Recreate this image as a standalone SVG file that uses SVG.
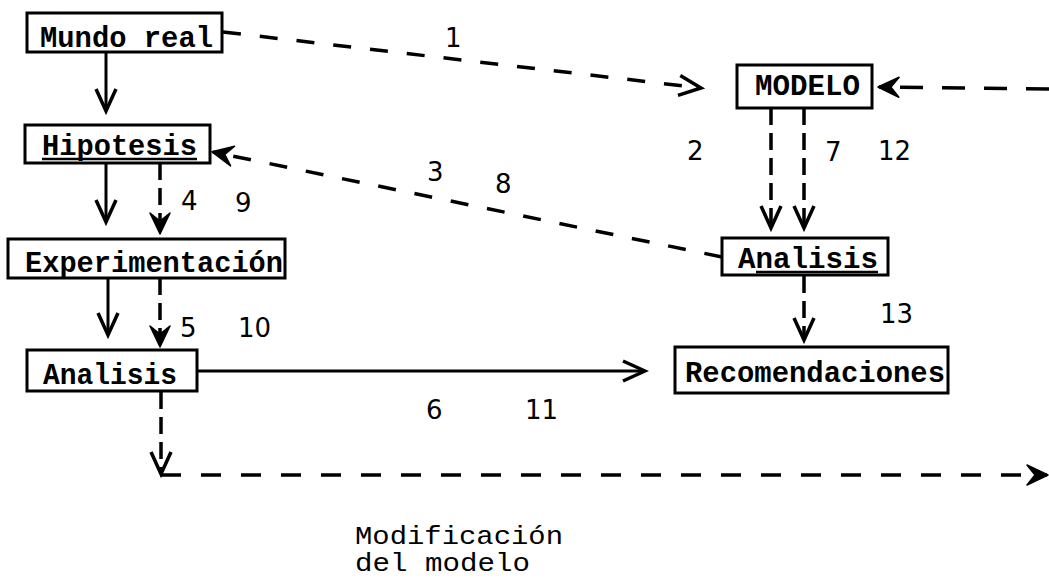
<svg xmlns="http://www.w3.org/2000/svg" width="1049" height="578" viewBox="0 0 1049 578">
  <style>
    .box { fill: #fff; stroke: #000; stroke-width: 3; }
    .lbl { font-family: "Liberation Mono", "Courier New", monospace; font-weight: bold; font-size: 29px; fill: #000; }
    .note { font-family: "Liberation Mono", "Courier New", monospace; font-size: 25px; fill: #000; }
    .num { font-family: "DejaVu Sans", "Liberation Sans", sans-serif; font-size: 26px; fill: #000; }
    .solid { fill: none; stroke: #000; stroke-width: 3; }
    .dash { fill: none; stroke: #000; stroke-width: 3.5; stroke-dasharray: 18 19; }
    .vdash { fill: none; stroke: #000; stroke-width: 3.5; stroke-dasharray: 17 8; }
    .uline { stroke: #000; stroke-width: 2.5; }
  </style>
  <defs>
    <marker id="vee" markerUnits="userSpaceOnUse" markerWidth="30" markerHeight="30" viewBox="-26 -13 30 26" refX="0" refY="0" orient="auto">
      <path d="M-22,-10 L0,0 L-22,10" fill="none" stroke="#000" stroke-width="3.5" stroke-linejoin="miter"/>
    </marker>
    <marker id="barb" markerUnits="userSpaceOnUse" markerWidth="30" markerHeight="30" viewBox="-26 -13 30 26" refX="0" refY="0" orient="auto">
      <path d="M1,0 L-20,-10 L-12,0 L-20,10 Z" fill="#000" stroke="#000" stroke-width="1.5" stroke-linejoin="round"/>
    </marker>
  </defs>

  <rect width="1049" height="578" fill="#fff"/>

  <!-- connectors -->
  <g id="connectors">
    <path class="solid" d="M106,52 V111" marker-end="url(#vee)"/>
    <path class="solid" d="M106,163 V222" marker-end="url(#vee)"/>
    <path class="vdash" d="M160,163 V233" marker-end="url(#barb)"/>
    <path class="solid" d="M108,278 V335" marker-end="url(#vee)"/>
    <path class="vdash" d="M160,278 V346" marker-end="url(#barb)"/>
    <path class="solid" d="M197,371 H645" marker-end="url(#vee)"/>
    <path class="vdash" d="M161,392 V474" marker-end="url(#vee)"/>
    <path class="dash" style="stroke-dasharray:20 20" d="M161,475 H1047" marker-end="url(#barb)"/>
    <path class="dash" d="M223,32 L701,88" marker-end="url(#vee)"/>
    <path class="dash" style="stroke-dasharray:23 19" d="M1049,89 L879,87" marker-end="url(#barb)"/>
    <path class="vdash" d="M771,108 V228" marker-end="url(#vee)"/>
    <path class="vdash" d="M804,108 V228" marker-end="url(#vee)"/>
    <path class="dash" d="M722,257 L213,152" marker-end="url(#barb)"/>
    <path class="vdash" d="M804,276 V340" marker-end="url(#vee)"/>
  </g>

  <!-- nodes -->
  <g id="mundo-real">
    <rect class="box" x="27" y="13" width="195" height="39"/>
    <text class="lbl" x="40" y="47" textLength="173" lengthAdjust="spacingAndGlyphs">Mundo real</text>
  </g>
  <g id="hipotesis">
    <rect class="box" x="25" y="125" width="185" height="38"/>
    <text class="lbl" x="42" y="155" textLength="155" lengthAdjust="spacingAndGlyphs">Hipotesis</text>
    <line class="uline" x1="42" y1="159" x2="197" y2="159"/>
  </g>
  <g id="experimentacion">
    <rect class="box" x="8" y="239" width="277" height="39"/>
    <text class="lbl" x="25" y="272" textLength="258" lengthAdjust="spacingAndGlyphs">Experimentación</text>
  </g>
  <g id="analisis-exp">
    <rect class="box" x="27" y="350" width="170" height="41"/>
    <text class="lbl" x="43" y="384" textLength="134" lengthAdjust="spacingAndGlyphs">Analisis</text>
  </g>
  <g id="modelo">
    <rect class="box" x="737" y="65" width="135" height="43"/>
    <text class="lbl" x="755" y="95" textLength="105" lengthAdjust="spacingAndGlyphs">MODELO</text>
  </g>
  <g id="analisis-modelo">
    <rect class="box" x="722" y="238" width="166" height="37"/>
    <text class="lbl" x="738" y="268" textLength="140" lengthAdjust="spacingAndGlyphs">Analisis</text>
    <line class="uline" x1="756" y1="272" x2="878" y2="272"/>
  </g>
  <g id="recomendaciones">
    <rect class="box" x="675" y="347" width="273" height="46"/>
    <text class="lbl" x="685" y="382" textLength="260" lengthAdjust="spacingAndGlyphs">Recomendaciones</text>
  </g>

  <!-- step numbers -->
  <g id="steps">
    <text class="num" x="445" y="47">1</text>
    <text class="num" x="687" y="160">2</text>
    <text class="num" x="825" y="161">7</text>
    <text class="num" x="878" y="160">12</text>
    <text class="num" x="427" y="181">3</text>
    <text class="num" x="495" y="193">8</text>
    <text class="num" x="181" y="210">4</text>
    <text class="num" x="235" y="212">9</text>
    <text class="num" x="180" y="337">5</text>
    <text class="num" x="238" y="337">10</text>
    <text class="num" x="880" y="323">13</text>
    <text class="num" x="426" y="419">6</text>
    <text class="num" x="525" y="419">11</text>
  </g>

  <!-- caption of the feedback loop -->
  <g id="modificacion">
    <text class="note" x="355" y="544" textLength="208" lengthAdjust="spacingAndGlyphs">Modificación</text>
    <text class="note" x="355" y="571" textLength="175" lengthAdjust="spacingAndGlyphs">del modelo</text>
  </g>
</svg>
